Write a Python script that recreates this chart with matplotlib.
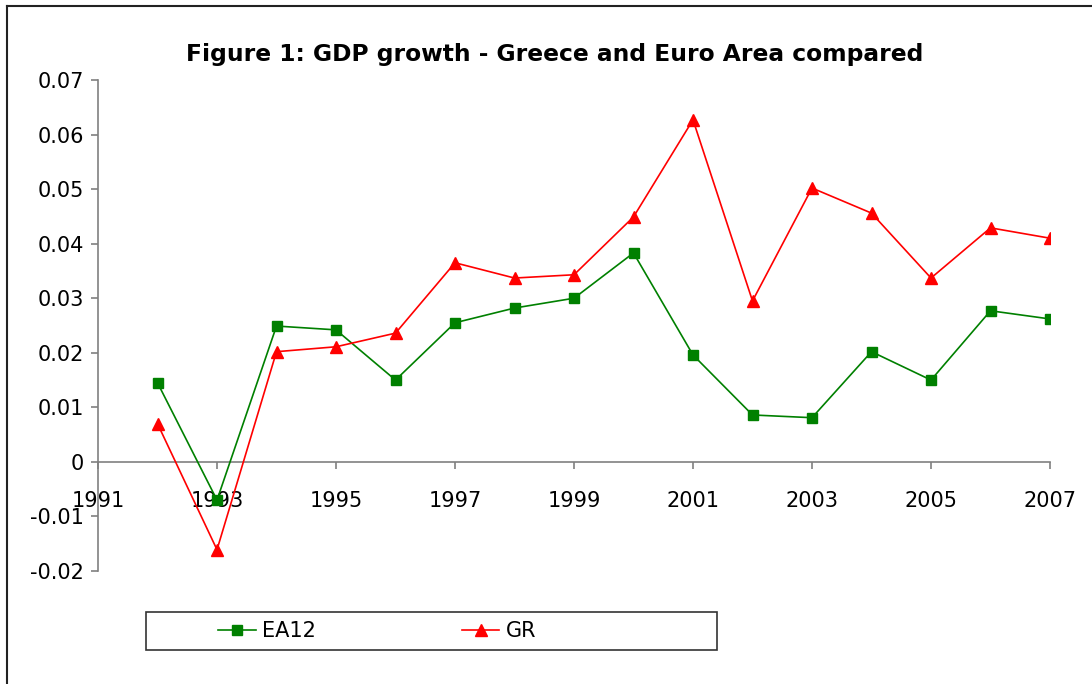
import matplotlib
matplotlib.use("Agg")
import matplotlib.pyplot as plt
from matplotlib.lines import Line2D
from matplotlib.patches import Rectangle

years = [1992, 1993, 1994, 1995, 1996, 1997, 1998, 1999, 2000,
         2001, 2002, 2003, 2004, 2005, 2006, 2007]
ea12 = [0.0145, -0.0070, 0.0249, 0.0242, 0.0150, 0.0255, 0.0282, 0.0300, 0.0383,
        0.0196, 0.0086, 0.0081, 0.0202, 0.0150, 0.0277, 0.0262]
gr = [0.0070, -0.0161, 0.0202, 0.0211, 0.0236, 0.0365, 0.0337, 0.0343, 0.0449,
      0.0627, 0.0295, 0.0502, 0.0456, 0.0337, 0.0429, 0.0410]
x_ticks = [1991, 1993, 1995, 1997, 1999, 2001, 2003, 2005, 2007]
y_ticks = [-0.02, -0.01, 0, 0.01, 0.02, 0.03, 0.04, 0.05, 0.06, 0.07]
y_labels = ["-0.02", "-0.01", "0", "0.01", "0.02", "0.03", "0.04", "0.05", "0.06", "0.07"]
title = "Figure 1: GDP growth - Greece and Euro Area compared"

plt.rcParams['font.family'] = ['DejaVu Sans']
W, H = 1092, 684
fig = plt.figure(figsize=(W / 100, H / 100), dpi=100)
ax = fig.add_axes([98 / W, 1 - 571 / H, (1050 - 98) / W, (571 - 80) / H])

l1, = ax.plot(years, ea12, color='#008000', lw=1.2, marker='s', markersize=7,
              label='EA12', zorder=3)
l2, = ax.plot(years, gr, color='#ff0000', lw=1.2, marker='^', markersize=8.5,
              label='GR', zorder=3)

ax.set_xlim(1991, 2007)
ax.set_ylim(-0.02, 0.07)
ax.set_xticks(x_ticks)
ax.set_xticklabels([str(t) for t in x_ticks])
ax.set_yticks(y_ticks)
ax.set_yticklabels(y_labels)

for s in ['top', 'right']:
    ax.spines[s].set_visible(False)
ax.spines['bottom'].set_position(('data', 0))
for s in ['left', 'bottom']:
    ax.spines[s].set_color('#808080')
    ax.spines[s].set_linewidth(1.2)
    ax.spines[s].set_zorder(1)
ax.tick_params(axis='y', direction='out', length=5, width=1.2, color='#808080',
               labelsize=15, pad=5)
ax.tick_params(axis='x', direction='out', length=5, width=1.2, color='#808080',
               labelsize=15, pad=16)

fig.text(555 / W, 1 - 54 / H, title, ha='center', va='center', fontsize=16.8,
         fontweight='bold')

# legend
fig.add_artist(Rectangle((146 / W, 1 - 650 / H), (717 - 146) / W, 38 / H,
                         transform=fig.transFigure, fill=False,
                         edgecolor='#333333', lw=1.2))
leg = fig.legend(handles=[l1, l2], loc='center left',
                 bbox_to_anchor=(208 / W, 1 - 631 / H), ncol=2, frameon=False,
                 fontsize=15, handlelength=1.8, handletextpad=0.3,
                 columnspacing=7.0, borderpad=0)

# outer border (top and left visible)
fig.add_artist(Line2D([7 / W, 7 / W], [0, 1 - 6 / H], transform=fig.transFigure,
                      color='#222222', lw=1.5))
fig.add_artist(Line2D([7 / W, 1], [1 - 6 / H, 1 - 6 / H], transform=fig.transFigure,
                      color='#222222', lw=1.5))

fig.savefig('out.png', dpi=100)
